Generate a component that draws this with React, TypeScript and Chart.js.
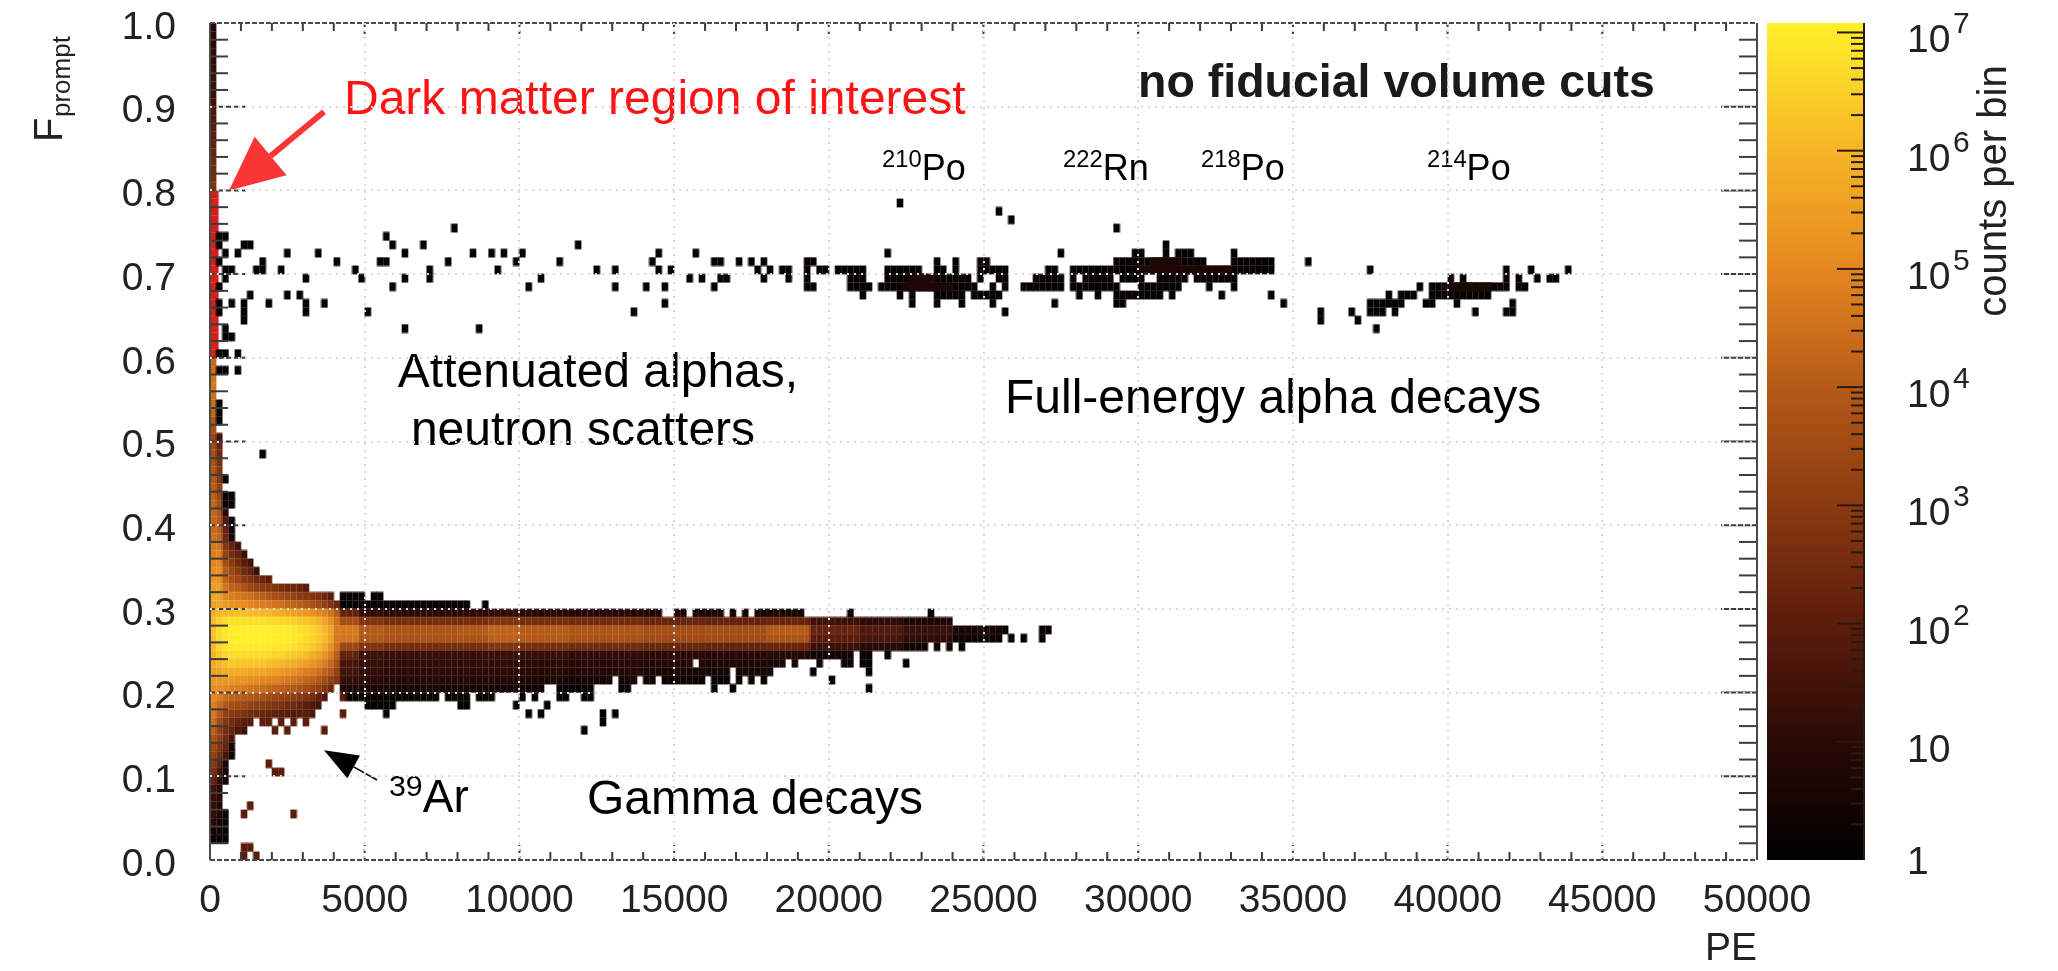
import React, { useEffect, useRef } from "react";
import { Chart, registerables } from "chart.js";

Chart.register(...registerables);

// ---------- histogram bins ----------
const BIN_PE = 200;
const BIN_F = 0.01;

// colour map: log10(counts) -> colour
const colorLogStops = [0, 1, 2, 3, 4, 5, 6, 7.08];
const colorStops = ["#000000", "#2a0a06", "#5c1c0c", "#8a3a10", "#b55a18", "#e5871f", "#f6b526", "#fff02a"];

// Low-energy blob, bins i = 0.. from the left edge, one row of log10(counts) for each F bin j
const coreRowJ = [50,49,48,47,46,45,44,43,42,41,40,39,38,37,36,35,34,33,32,31,30,29,28,27,26,25,24,23,22,21,20,19,18,17,16,15,14,13,12,11,10,9,8,7,6,5,4,3,2];
const coreRowLog = [
  [3.4,1.5],[3.6,2.2],[3.7,2.4],[3.8,2.6],[3.9,2.8],[4.0,3.0,0.2],[4.1,3.2],[4.2,3.4,0.4,0.2],[4.3,3.6,0.3,0.2],[4.3,3.9,1.0],
  [4.3,4.0,1.8,0.3],[4.4,4.2,2.2,0.4],[4.5,4.3,2.4,0.6],[4.7,4.6,2.9,2.2,1.5],[4.8,4.9,3.2,2.6,2.2,1.4],[5.0,5.0,3.6,3.0,2.5,2.0,1.5],
  [5.2,5.2,4.0,3.4,3.0,2.5,2.2,1.3],[5.3,5.3,4.2,3.7,3.4,3.0,2.8,2.4,2.2,2.0],
  [5.5,5.5,4.6,4.2,4.1,3.8,3.4,3.2,3.1,3.0,2.8,2.6,2.4,2.3,2.2,2.0],
  [5.7,5.6,5.0,4.8,4.7,4.6,4.5,4.3,4.1,3.9,3.7,3.6,3.4,3.2,3.0,2.9,2.8,2.7,2.4,2.0],
  [5.6,5.7,5.4,5.3,5.2,5.1,5.0,4.9,4.8,4.7,4.6,4.5,4.3,4.2,4.1,3.9,3.7,3.5,3.2,2.8,2.4],
  [5.8,6.0,6.1,6.1,6.2,6.2,6.1,6.1,6.0,6.0,5.9,5.8,5.7,5.6,5.5,5.4,5.2,5.0,4.8,4.5,4.0],
  [6.1,6.5,6.7,6.8,6.8,6.8,6.8,6.8,6.8,6.7,6.7,6.6,6.6,6.5,6.4,6.3,6.2,6.0,5.7,5.2,4.5],
  [6.2,6.7,6.9,7.0,7.0,7.05,7.05,7.05,7.05,7.05,7.0,7.0,7.0,6.9,6.8,6.7,6.6,6.4,6.1,5.6,4.7],
  [6.2,6.7,6.9,7.0,7.0,7.05,7.05,7.05,7.05,7.05,7.05,7.0,7.0,6.9,6.9,6.7,6.6,6.4,6.1,5.6,4.7],
  [6.1,6.6,6.8,6.9,7.0,7.0,7.0,7.0,7.0,7.0,6.9,6.9,6.9,6.8,6.7,6.6,6.4,6.2,5.8,5.2,4.5],
  [6.0,6.3,6.6,6.7,6.7,6.7,6.7,6.7,6.7,6.7,6.6,6.6,6.5,6.4,6.3,6.2,5.9,5.6,5.3,4.8,4.1],
  [5.8,6.1,6.2,6.3,6.3,6.3,6.3,6.3,6.3,6.2,6.1,6.0,5.9,5.8,5.7,5.5,5.3,5.1,4.8,4.3,3.6],
  [5.6,5.7,5.8,5.8,5.8,5.8,5.7,5.7,5.7,5.6,5.5,5.4,5.3,5.2,5.0,4.8,4.7,4.5,4.2,3.9,3.2],
  [5.4,5.4,5.4,5.4,5.3,5.3,5.2,5.1,5.0,5.0,4.9,4.8,4.7,4.6,4.5,4.3,4.2,4.0,3.6,3.2,2.8],
  [5.2,5.1,5.0,4.9,4.8,4.7,4.6,4.5,4.4,4.3,4.2,4.1,4.0,3.9,3.8,3.6,3.4,3.2,2.9,2.4],
  [5.0,4.8,4.4,4.2,4.1,4.0,3.9,3.8,3.7,3.5,3.4,3.3,3.2,3.1,3.0,2.8,2.6,2.2,1.8],
  [4.9,4.4,3.9,3.6,3.5,3.4,3.2,3.1,3.0,2.9,2.8,2.7,2.5,2.4,2.2,2.0,1.8,1.5],
  [4.7,4.0,3.2,3.0,2.8,2.7,2.5,2.4,2.3,2.2,2.1,2.0,1.9,1.8,1.9,2.0,1.7],
  [4.5,3.6,2.9,2.5,2.2,2.0,1.9],[4.2,3.2,2.6,2.2,1.8,1.5],[3.8,3.2,2.5,1.6],[3.5,3.0,2.2,0.5],[3.2,2.6,1.6,0.3],
  [3.0,2.2,0.6],[2.6,1.6,0.4],[2.2,1.2,0.3],[1.5,1.0],[1.3,0.9],[1.2,0.8],[1.2,0.8,0.3],[1.0,0.6,0.2],[0.4,0.5,0.2],[0.2,0.2,0.2],
];

// Isolated dark red bins around the blob: [i, j]
const haloBins = [[8,16],[9,16],[11,16],[13,16],[15,16],[10,15],[12,15],[18,15],[21,17],[21,19],[9,11],[10,10],[11,10],[6,6],[5,5],[13,5],[5,1],[6,1],[5,0],[7,0]];

// Left-most column, upper part: j and log10(counts)
const edgeColumnJ = [59,58,57,56,55,54,53,52,51,99,98,97,96,95,94,93,92,91,90,89,88,87,86,85,84,83,82,81,80];
const edgeColumnLog = [4.4,4.5,4.6,4.6,4.5,4.4,4.3,3.9,3.7,1.0,1.0,1.0,1.1,1.1,1.3,1.3,1.4,1.4,1.5,1.7,1.8,1.9,2.0,2.1,2.3,2.4,2.5,2.6,2.7];

// Region of interest bins in the left-most column (F bins)
const roiBinsJ = [60,61,62,63,64,65,66,67,68,69,70,71,72,73,74,75,76,77,78,79];

// Gamma band: log10(counts) per F row (j = 31 .. 17) in PE sections starting at these bins
const bandSectionStart = [21,24,28,40,45,50,58,70,80,90,97,105,112,120,128];
const bandRowJ = [31,30,29,28,27,26,25,24,23,22,21,20,19,18,17,16,15];
const bandRowLog = [
  [0.2,0.2,0.2,0.2,0.2,0.2,0.2,0.2,0.2,0.2,0.2,0.2,0.2,0.2,0.2],
  [0.2,0.2,0.2,0.2,0.2,0.2,0.2,0.2,0.2,0.2,0.2,0.2,0.2,0.2,0.2],
  [2.2,1.1,1.0,1.0,1.1,0.9,0.8,0.6,0.5,0.5,0.2,0.1,0.1,0.1,0.1],
  [3.6,2.8,2.6,2.6,2.8,2.6,2.5,2.3,2.2,2.3,1.4,1.1,0.7,0.2,0.1],
  [4.7,4.0,3.8,3.9,4.2,4.0,3.8,3.6,3.6,4.0,2.2,1.8,1.3,0.6,0.2],
  [4.6,3.9,3.7,3.8,4.1,3.9,3.7,3.5,3.5,3.8,2.0,1.6,1.1,0.3,0.1],
  [3.4,2.8,2.6,2.6,2.8,2.6,2.5,2.3,2.2,2.3,1.4,1.0,0.4,0.1,0.1],
  [2.2,1.4,1.2,1.2,1.3,1.2,1.1,1.0,0.9,0.9,0.4,0.2,0.1,0.1,0.1],
  [1.6,1.2,1.1,1.1,1.1,1.0,0.9,0.8,0.7,0.6,0.2,0.1,0.1,0.1,0.1],
  [1.5,1.1,1.0,1.0,1.0,0.9,0.8,0.6,0.5,0.5,0.1,0.1,0.1,0.1,0.1],
  [1.2,1.0,0.9,0.9,0.9,0.7,0.5,0.3,0.2,0.1,0.1,0.1,0.1,0.1,0.1],
  [0.7,0.7,0.6,0.6,0.5,0.3,0.2,0.1,0.1,0.1,0.1,0.1,0.1,0.1,0.1],
  [0.2,0.2,0.2,0.2,0.2,0.1,0.1,0.1,0.1,0.1,0.1,0.1,0.1,0.1,0.1],
  [0.1,0.1,0.1,0.1,0.1,0.1,0.1,0.1,0.1,0.1,0.1,0.1,0.1,0.1,0.1],
  [0.1,0.1,0.1,0.1,0.1,0.1,0.1,0.1,0.1,0.1,0.1,0.1,0.1,0.1,0.1],
  [0.1,0.1,0.1,0.1,0.1,0.1,0.1,0.1,0.1,0.1,0.1,0.1,0.1,0.1,0.1],
  [0.1,0.1,0.1,0.1,0.1,0.1,0.1,0.1,0.1,0.1,0.1,0.1,0.1,0.1,0.1],
];
// Occupied bins of the band rows: single bins or [from, to] ranges
const bandRowBins: (number | number[])[][] = [
  [[21,24],[26,27]],
  [[21,39],[40,41],44],
  [[21,72],[75,76],[78,82],84,86,[88,95],103,116],
  [[21,119]],
  [[21,128],[134,135]],
  [[21,127],129,131,134],
  [[21,115],117,119,121],
  [[21,103],[105,106],109],
  [[21,77],[79,92],94,98,[102,103],[105,106],112],
  [[21,83],[85,90],97,106],
  [[21,64],[66,68],[70,71],[73,79],[81,83],85,87,89,100],
  [[21,53],[56,61],[66,67],81,84,106],
  [[22,36],[38,41],[43,45],50,52,[56,57],[60,61]],
  [[25,29],[40,41],49,54],
  [28,51,53,63,65],
  [63],
  [60],
];

// Alpha band and scattered events (lowest colour): F row j, then bins
const sparseRowJ = [78,77,76,75,74,73,72,71,70,69,68,67,66,65,64,63,62,60,58,54,53,52,48];
const sparseRowBins: (number | number[])[][] = [
  [111],
  [127],
  [129],
  [39,146],
  [1,2,28],
  [1,5,6,29,34,59,154],
  [2,4,12,17,31,42,45,47,50,72,78,109,137,149,150,154,156,157,158,165],
  [1,8,20,[27,28],38,49,56,71,[81,82],85,87,89,[96,97],117,120,124,125,[146,160],[165,171],177],
  [[2,3],[7,8],11,23,35,46,62,65,72,74,88,90,[92,93],96,[98,99],[101,105],[109,114],[117,118],120,[124,128],[135,136],[139,171],187,209,213,219],
  [2,15,24,31,35,53,77,79,[82,83],89,93,96,[103,105],[109,115],[117,122],124,[127,128],[133,137],139,[141,145],[147,150],[153,157],[159,165],200,202,209,211,214,[216,217]],
  [1,29,51,65,70,73,81,[96,97],[103,106],[108,123],126,128,[131,137],[139,146],[150,156],161,165,195,[197,209],[211,212]],
  [6,12,14,105,111,113,[117,121],[123,127],140,143,[146,153],155,163,171,190,[192,194],[197,206]],
  [1,3,5,9,15,18,73,113,117,121,126,136,[146,147],173,[187,192],[196,197],201,210],
  [1,5,15,25,68,128,179,184,[187,189],191,204,[209,210]],
  [5,179,185],
  [2,31,43,188],
  [2,3],
  [1,2,4],
  [1,2,4],
  [1],
  [1],
  [1],
  [8],
];
// Alpha band bins holding a little more than the lowest colour
const warmRowJ = [71,70,69,68,68];
const warmRowBins = [[152,156],[150,164],[113,116],[112,119],[200,206]];
const warmLog = 0.7;
const sparseLog = 0.15;

// ---------- axes ----------
const peTicksMinor = [1000,2000,3000,4000,6000,7000,8000,9000,11000,12000,13000,14000,16000,17000,18000,19000,21000,22000,23000,24000,26000,27000,28000,29000,31000,32000,33000,34000,36000,37000,38000,39000,41000,42000,43000,44000,46000,47000,48000,49000];
const fTicksMinor = [0.02,0.04,0.06,0.08,0.12,0.14,0.16,0.18,0.22,0.24,0.26,0.28,0.32,0.34,0.36,0.38,0.42,0.44,0.46,0.48,0.52,0.54,0.56,0.58,0.62,0.64,0.66,0.68,0.72,0.74,0.76,0.78,0.82,0.84,0.86,0.88,0.92,0.94,0.96,0.98];
const colorbarExponents = [1,2,3,4,5,6,7];
const colorbarMinor = [2,3,4,5,6,7,8,9];

// ---------- annotations, positioned in data coordinates ----------
const labelsPlain = [
  { text: "Dark matter region of interest", pe: 4331, f: 0.891, color: "#fc1414", size: 48, align: "left", weight: "" },
  { text: "no fiducial volume cuts", pe: 29994, f: 0.9116, color: "#1a1a1a", size: 46.5, align: "left", weight: "bold" },
  { text: "Attenuated alphas,", pe: 12540, f: 0.565, color: "#000", size: 48, align: "center", weight: "" },
  { text: "neutron scatters", pe: 12056, f: 0.4958, color: "#000", size: 48, align: "center", weight: "" },
  { text: "Full-energy alpha decays", pe: 25695, f: 0.534, color: "#000", size: 48, align: "left", weight: "" },
  { text: "Gamma decays", pe: 12185, f: 0.055, color: "#000", size: 48, align: "left", weight: "" },
];
const isotopeLabels = [
  { sup: "210", text: "Po", pe: 21720, f: 0.8124, size: 36 },
  { sup: "222", text: "Rn", pe: 27570, f: 0.8124, size: 36 },
  { sup: "218", text: "Po", pe: 32030, f: 0.8124, size: 36 },
  { sup: "214", text: "Po", pe: 39334, f: 0.8124, size: 36 },
  { sup: "39", text: "Ar", pe: 5785, f: 0.0573, size: 46 },
];

const FONT = '"Liberation Sans", Arial, Helvetica, sans-serif';
const AXIS_COLOR = "#4a4a4a";
const TEXT_COLOR = "#222222";

function expand(bins: (number | number[])[]): number[] {
  const out: number[] = [];
  for (const b of bins) {
    if (Array.isArray(b)) for (let k = b[0]; k <= b[1]; k++) out.push(k);
    else out.push(b);
  }
  return out;
}

function hexToRgb(h: string) {
  return [parseInt(h.slice(1, 3), 16), parseInt(h.slice(3, 5), 16), parseInt(h.slice(5, 7), 16)];
}

function logToColor(v: number): string {
  let k = 0;
  while (k < colorLogStops.length - 2 && v > colorLogStops[k + 1]) k++;
  const t = Math.min(1, Math.max(0, (v - colorLogStops[k]) / (colorLogStops[k + 1] - colorLogStops[k])));
  const a = hexToRgb(colorStops[k]);
  const b = hexToRgb(colorStops[k + 1]);
  const c = a.map((x, n) => Math.round(x + (b[n] - x) * t));
  return `rgb(${c[0]},${c[1]},${c[2]})`;
}

const swatches = new Map<string, HTMLCanvasElement>();
function swatch(color: string, w = 8, h = 10, fillW = 6.6): HTMLCanvasElement {
  const key = `${color}|${w}|${h}|${fillW}`;
  let c = swatches.get(key);
  if (!c) {
    c = document.createElement("canvas");
    c.width = w;
    c.height = h;
    const g = c.getContext("2d")!;
    g.fillStyle = color;
    g.fillRect((w - fillW) / 2, (h - 8.8) / 2, fillW, 8.8);
    swatches.set(key, c);
  }
  return c;
}

type Cell = { x: number; y: number; v: number };
const cell = (i: number, j: number, v: number): Cell => ({ x: (i + 0.5) * BIN_PE, y: (j + 0.5) * BIN_F, v });

function buildCells(): Cell[] {
  const out: Cell[] = [];
  coreRowJ.forEach((j, r) => coreRowLog[r].forEach((v, i) => out.push(cell(i, j, v))));
  edgeColumnJ.forEach((j, r) => out.push(cell(0, j, edgeColumnLog[r])));
  haloBins.forEach(([i, j]) => out.push(cell(i, j, 2)));
  bandRowJ.forEach((j, r) => {
    for (const i of expand(bandRowBins[r])) {
      let s = 0;
      while (s < bandSectionStart.length - 1 && i >= bandSectionStart[s + 1]) s++;
      out.push(cell(i, j, bandRowLog[r][s]));
    }
  });
  sparseRowJ.forEach((j, r) => expand(sparseRowBins[r]).forEach((i) => out.push(cell(i, j, sparseLog))));
  warmRowJ.forEach((j, r) => {
    for (let i = warmRowBins[r][0]; i <= warmRowBins[r][1]; i++) out.push(cell(i, j, warmLog));
  });
  return out;
}

function drawArrow(g: CanvasRenderingContext2D, x0: number, y0: number, x1: number, y1: number, color: string, lw: number, headLen: number, headHalf: number) {
  const d = Math.hypot(x1 - x0, y1 - y0);
  const ux = (x1 - x0) / d;
  const uy = (y1 - y0) / d;
  const bx = x1 - ux * headLen;
  const by = y1 - uy * headLen;
  g.strokeStyle = color;
  g.fillStyle = color;
  g.lineWidth = lw;
  g.setLineDash([]);
  g.beginPath();
  g.moveTo(x0, y0);
  g.lineTo(bx, by);
  g.stroke();
  g.beginPath();
  g.moveTo(x1, y1);
  g.lineTo(bx - uy * headHalf, by + ux * headHalf);
  g.lineTo(bx + uy * headHalf, by - ux * headHalf);
  g.closePath();
  g.fill();
}

const framePlugin = {
  id: "rootFrame",
  afterDatasetsDraw(chart: any) {
    const g: CanvasRenderingContext2D = chart.ctx;
    const { left, right, top, bottom } = chart.chartArea;
    const sx = chart.scales.x;
    const sy = chart.scales.y;
    g.save();
    g.lineCap = "butt";
    g.strokeStyle = "#3c3c3c";
    g.lineWidth = 2;
    const line = (a: number, b: number, c: number, d: number) => {
      g.beginPath();
      g.moveTo(a, b);
      g.lineTo(c, d);
      g.stroke();
    };
    // minor ticks
    g.setLineDash([]);
    fTicksMinor.forEach((f) => {
      const y = sy.getPixelForValue(f);
      line(left, y, left + 18, y);
      line(right - 18, y, right, y);
    });
    peTicksMinor.forEach((p) => {
      const x = sx.getPixelForValue(p);
      line(x, bottom, x, bottom - 8);
      line(x, top, x, top + 8);
    });
    // major ticks
    for (let k = 1; k < 10; k++) {
      const y = sy.getPixelForValue(k / 10);
      g.setLineDash([5, 3]);
      line(left, y, left + 36, y);
      g.setLineDash([]);
      line(right - 36, y, right, y);
      const x = sx.getPixelForValue(k * 5000);
      g.setLineDash([4, 3]);
      line(x, bottom, x, bottom - 15);
      line(x, top, x, top + 15);
    }
    // frame
    g.strokeStyle = AXIS_COLOR;
    g.setLineDash([]);
    line(left, top, left, bottom);
    line(right, top, right, bottom);
    g.setLineDash([5, 2]);
    line(left, bottom, right, bottom);
    line(left, top, right, top);
    g.setLineDash([]);

    // y title with subscript
    g.fillStyle = TEXT_COLOR;
    g.save();
    g.translate(62, 142);
    g.rotate(-Math.PI / 2);
    g.textAlign = "left";
    g.textBaseline = "alphabetic";
    g.font = `40px ${FONT}`;
    g.fillText("F", 0, 0);
    g.font = `26px ${FONT}`;
    g.fillText("prompt", 25, 8);
    g.restore();

    // annotations
    g.textBaseline = "alphabetic";
    labelsPlain.forEach((l) => {
      g.font = `${l.weight} ${l.size}px ${FONT}`;
      g.fillStyle = l.color;
      g.textAlign = l.align as CanvasTextAlign;
      g.fillText(l.text, sx.getPixelForValue(l.pe), sy.getPixelForValue(l.f));
    });
    g.textAlign = "left";
    g.fillStyle = "#000";
    isotopeLabels.forEach((l) => {
      const x = sx.getPixelForValue(l.pe);
      const y = sy.getPixelForValue(l.f);
      g.font = `${l.size * 0.66}px ${FONT}`;
      g.fillText(l.sup, x, y - l.size * 0.35);
      const w = g.measureText(l.sup).width;
      g.font = `${l.size}px ${FONT}`;
      g.fillText(l.text, x + w, y);
    });
    drawArrow(g, sx.getPixelForValue(3685), sy.getPixelForValue(0.894), sx.getPixelForValue(614), sy.getPixelForValue(0.8), "#f93535", 6, 54, 25);
    drawArrow(g, sx.getPixelForValue(5398), sy.getPixelForValue(0.0956), sx.getPixelForValue(3685), sy.getPixelForValue(0.131), "#000", 1.5, 34, 13);
    g.restore();
  },
};

const colorbarPlugin = {
  id: "colorbarFrame",
  afterDatasetsDraw(chart: any) {
    const g: CanvasRenderingContext2D = chart.ctx;
    const sy = chart.scales.y;
    const { right, top, bottom } = chart.chartArea;
    g.save();
    g.strokeStyle = "#2a1a10";
    g.lineWidth = 2;
    g.beginPath();
    g.moveTo(right, top);
    g.lineTo(right, bottom);
    g.stroke();
    const tick = (y: number, len: number) => {
      g.beginPath();
      g.moveTo(right - len, y);
      g.lineTo(right, y);
      g.stroke();
    };
    g.fillStyle = TEXT_COLOR;
    g.textBaseline = "alphabetic";
    g.textAlign = "left";
    g.font = `39px ${FONT}`;
    g.fillText("1", 1907, bottom + 14);
    colorbarExponents.forEach((e) => {
      const y = sy.getPixelForValue(Math.pow(10, e));
      tick(y, 27);
      g.font = `39px ${FONT}`;
      if (e === 1) {
        g.fillText("10", 1907, y + 20);
      } else {
        g.fillText("10", 1907, y + 20);
        g.font = `30px ${FONT}`;
        g.fillText(String(e), 1953, y + 1);
      }
      colorbarMinor.forEach((m) => {
        const v = m * Math.pow(10, e - 1);
        if (v > 1) tick(sy.getPixelForValue(v), 13);
      });
    });
    g.save();
    g.translate(2006, 191);
    g.rotate(-Math.PI / 2);
    g.textAlign = "center";
    g.font = `40px ${FONT}`;
    g.fillText("counts per bin", 0, 0);
    g.restore();
    g.restore();
  },
};

export default function App() {
  const mainRef = useRef<HTMLCanvasElement>(null);
  const barRef = useRef<HTMLCanvasElement>(null);

  useEffect(() => {
    const cells = buildCells();
    const roi = roiBinsJ.map((j) => cell(0, j, 0));
    const noPad = (s: any) => {
      s.paddingTop = 0;
      s.paddingBottom = 0;
      s.paddingLeft = 0;
      s.paddingRight = 0;
    };
    const main = new Chart(mainRef.current!, {
      type: "scatter",
      data: {
        datasets: [
          {
            label: "counts per bin",
            data: cells as any,
            pointRadius: 3,
            pointHoverRadius: 3,
            pointStyle: ((c: any) => swatch(logToColor(c.raw ? c.raw.v : 0))) as any,
          },
          {
            label: "Dark matter region of interest",
            data: roi as any,
            pointRadius: 3,
            pointStyle: (() => swatch("#d41f1c", 18, 10, 11)) as any,
          },
        ],
      },
      options: {
        responsive: false,
        animation: false,
        events: [],
        layout: { padding: { left: 0, top: 23, right: 301, bottom: 0 } },
        plugins: { legend: { display: false }, tooltip: { enabled: false }, title: { display: false } },
        scales: {
          x: {
            type: "linear",
            min: 0,
            max: 50000,
            afterFit: (s: any) => { s.height = 111; noPad(s); },
            grid: {
              z: 1,
              drawTicks: false,
              lineWidth: 2,
              color: (c: any) => (c.tick && c.tick.value > 0 && c.tick.value < 50000 ? "#d9d9d9" : "rgba(0,0,0,0)"),
            },
            border: { display: false, dash: [2, 5] },
            ticks: {
              stepSize: 5000,
              autoSkip: false,
              maxRotation: 0,
              padding: 18,
              color: TEXT_COLOR,
              font: { family: FONT, size: 39 },
              callback: (v: any) => String(v),
            },
            title: {
              display: true,
              text: "PE",
              align: "end",
              color: TEXT_COLOR,
              font: { family: FONT, size: 39 },
              padding: { top: 0, bottom: -2 },
            },
          },
          y: {
            type: "linear",
            min: 0,
            max: 1,
            afterFit: (s: any) => { s.width = 210; noPad(s); },
            grid: {
              z: 1,
              drawTicks: false,
              lineWidth: 2,
              color: (c: any) => (c.tick && c.tick.value > 0.01 && c.tick.value < 0.99 ? "#d9d9d9" : "rgba(0,0,0,0)"),
            },
            border: { display: false, dash: [2, 5] },
            ticks: {
              stepSize: 0.1,
              autoSkip: false,
              padding: 34,
              labelOffset: 5,
              color: TEXT_COLOR,
              font: { family: FONT, size: 39 },
              callback: (v: any) => Number(v).toFixed(1),
            },
          },
        },
      },
      plugins: [framePlugin],
    } as any);

    const bar = new Chart(barRef.current!, {
      type: "bar",
      data: {
        labels: ["counts per bin"],
        datasets: [
          {
            data: [[1, Math.pow(10, 7.08)]] as any,
            barPercentage: 1,
            categoryPercentage: 1,
            backgroundColor: ((c: any) => {
              const area = c.chart.chartArea;
              if (!area) return "#000";
              const grad = c.chart.ctx.createLinearGradient(0, area.bottom, 0, area.top);
              colorLogStops.forEach((v, k) => grad.addColorStop(v / 7.08, colorStops[k]));
              return grad;
            }) as any,
          },
        ],
      },
      options: {
        responsive: false,
        animation: false,
        events: [],
        layout: { padding: { left: 1767, top: 23, right: 0, bottom: 111 } },
        plugins: { legend: { display: false }, tooltip: { enabled: false } },
        scales: {
          x: { display: false },
          y: {
            type: "logarithmic",
            position: "right",
            min: 1,
            max: Math.pow(10, 7.08),
            afterFit: (s: any) => { s.width = 194; },
            grid: { display: false },
            border: { display: false },
            ticks: { display: false },
          },
        },
      },
      plugins: [colorbarPlugin],
    } as any);

    return () => {
      main.destroy();
      bar.destroy();
    };
  }, []);

  const canvasStyle: React.CSSProperties = { position: "absolute", left: 0, top: 0, filter: "blur(0.5px)" };
  return (
    <div style={{ position: "absolute", left: 0, top: 0, width: 2058, height: 971, overflow: "hidden", background: "#fff" }}>
      <canvas ref={mainRef} width={2058} height={971} style={canvasStyle} />
      <canvas ref={barRef} width={2058} height={971} style={canvasStyle} />
    </div>
  );
}
